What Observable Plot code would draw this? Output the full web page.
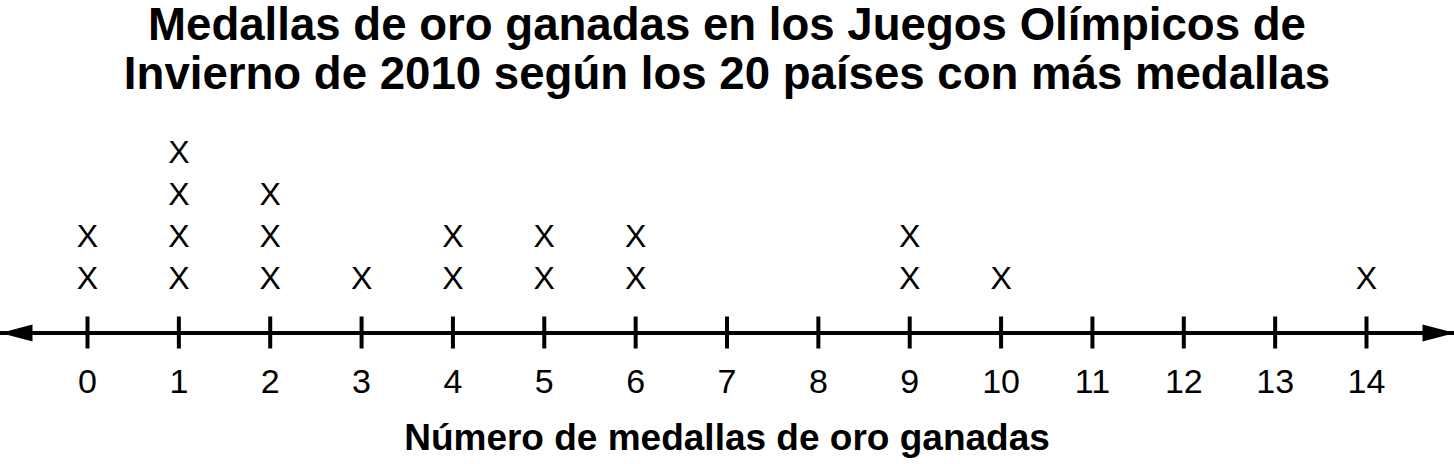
<!DOCTYPE html>
<html>
<head>
<meta charset="utf-8">
<script src="https://cdn.jsdelivr.net/npm/d3@7"></script>
<script src="https://cdn.jsdelivr.net/npm/@observablehq/plot@0.6"></script>
<style>
  html, body { margin: 0; padding: 0; background: #fff; }
  body { width: 1454px; height: 464px; overflow: hidden; font-family: "Liberation Sans", Arial, sans-serif; }
  #title { font-weight: bold; font-size: 45.6px; line-height: 49px; text-align: center; color: #000; margin: 0; height: 100px; }
  #xlabel { font-weight: bold; font-size: 37px; line-height: 56px; text-align: center; color: #000; }
  svg { display: block; }
</style>
</head>
<body>
<div id="title">Medallas de oro ganadas en los Juegos Olímpicos de<br>Invierno de 2010 según los 20 países con más medallas</div>
<div id="chart"></div>
<div id="xlabel">Número de medallas de oro ganadas</div>
<script>
// Data
const medalValues = [0, 1, 2, 3, 4, 5, 6, 9, 10, 14];
const countryCounts = [2, 4, 3, 1, 2, 2, 2, 2, 1, 1];
const tickLabels = [0, 1, 2, 3, 4, 5, 6, 7, 8, 9, 10, 11, 12, 13, 14];

// Build one row per country (stack level k)
const marksData = [];
medalValues.forEach((v, i) => {
  for (let k = 1; k <= countryCounts[i]; k++) marksData.push({value: v, level: k});
});

const leftArrow = {
  draw(ctx) { ctx.moveTo(0, 0); ctx.lineTo(32, -8.5); ctx.lineTo(32, 8.5); ctx.closePath(); }
};
const rightArrow = {
  draw(ctx) { ctx.moveTo(0, 0); ctx.lineTo(-32, -8.5); ctx.lineTo(-32, 8.5); ctx.closePath(); }
};

const axisY = 232.5;
const rowStep = 42;

const chart = Plot.plot({
  width: 1454,
  height: 310,
  marginTop: 0, marginBottom: 0, marginLeft: 0, marginRight: 0,
  style: {fontFamily: '"Liberation Sans", Arial, sans-serif', background: "white", color: "black"},
  x: {domain: [0, 14], range: [87, 1366], axis: null},
  y: {domain: [0, 4], range: [axisY, axisY - 4 * rowStep], axis: null},
  marks: [
    Plot.ruleY([0], {y: d => d, stroke: "black", strokeWidth: 4}),
    Plot.ruleX(tickLabels, {x: d => d, y1: () => 0, y2: () => 0, insetTop: -16, insetBottom: -16, stroke: "black", strokeWidth: 4}),
    Plot.dot([0], {y: d => d, frameAnchor: "left", symbol: leftArrow, fill: "black", stroke: "none"}),
    Plot.dot([0], {y: d => d, frameAnchor: "right", symbol: rightArrow, fill: "black", stroke: "none"}),
    Plot.text(tickLabels, {x: d => d, y: () => 0, text: d => String(d), dy: 49, fontSize: 34, fill: "black"}),
    Plot.text(marksData, {x: "value", y: "level", text: () => "X", dy: -12, fontSize: 32, fill: "black"})
  ]
});
document.getElementById("chart").appendChild(chart);
</script>
</body>
</html>
